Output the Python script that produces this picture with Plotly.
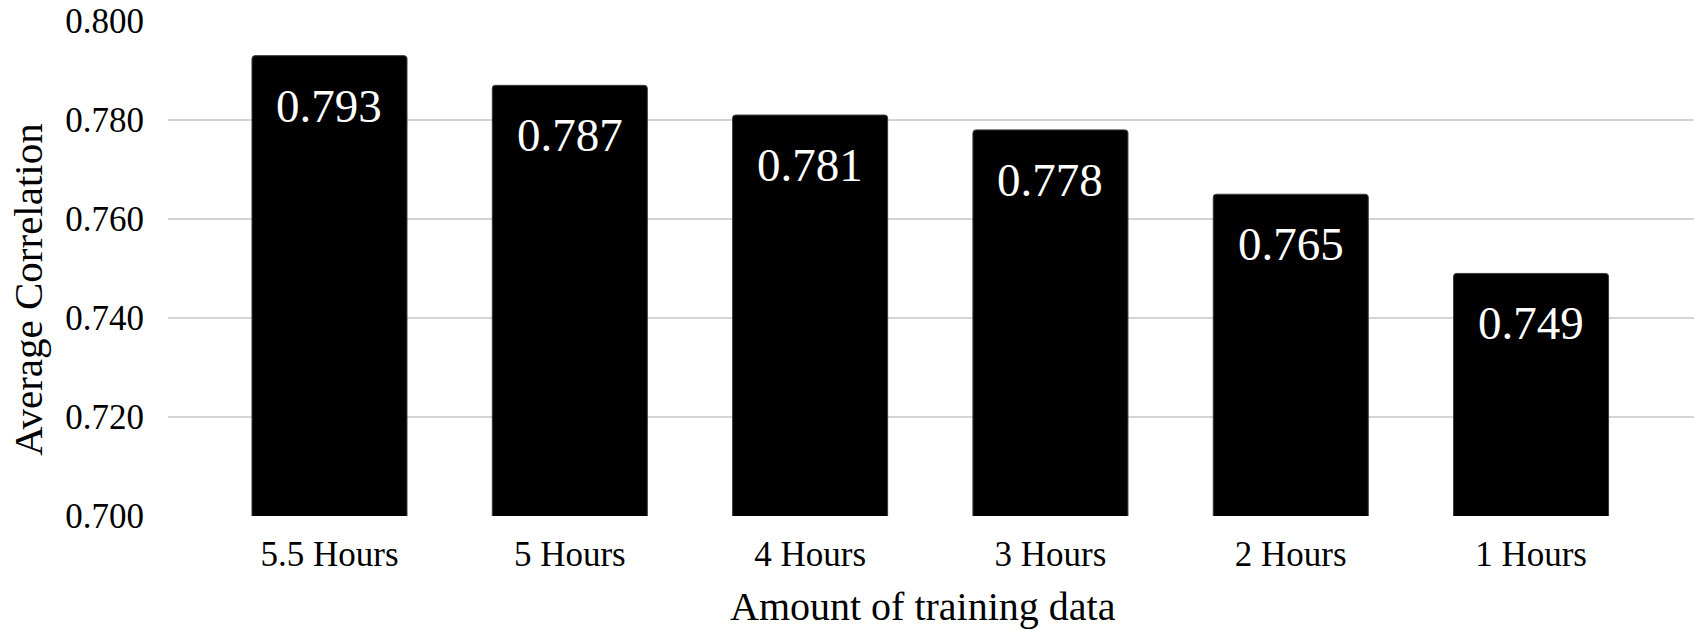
import plotly.graph_objects as go

# Average correlation by amount of training data
categories = ["5.5 Hours", "5 Hours", "4 Hours", "3 Hours", "2 Hours", "1 Hours"]
avg_correlation = [0.793, 0.787, 0.781, 0.778, 0.765, 0.749]
y_ticks = [0.700, 0.720, 0.740, 0.760, 0.780, 0.800]

FONT = "Liberation Serif, Times New Roman, serif"

fig = go.Figure()
fig.add_trace(go.Bar(
    x=categories,
    y=avg_correlation,
    base=0,
    width=0.645,
    marker=dict(color="#000000", line=dict(color="#3a3a3a", width=1), cornerradius=3),
    hoverinfo="x+y",
))

# Value labels placed just inside the top of each bar
for cat, val in zip(categories, avg_correlation):
    fig.add_annotation(
        x=cat, y=val, xref="x", yref="y",
        text=f"{val:.3f}", showarrow=False,
        yanchor="top", yshift=-22,
        font=dict(family=FONT, size=47, color="#ffffff"),
    )

# Axis titles
fig.add_annotation(
    text="Amount of training data", xref="paper", yref="paper",
    x=0.495, y=-0.183, xanchor="center", yanchor="middle", showarrow=False,
    font=dict(family=FONT, size=40, color="#000000"),
)
fig.add_annotation(
    text="Average Correlation", xref="paper", yref="paper", textangle=-90,
    x=-0.0917, y=0.4566, xanchor="center", yanchor="middle", showarrow=False,
    font=dict(family=FONT, size=41, color="#000000"),
)

fig.update_layout(
    width=1694, height=630,
    margin=dict(l=168, r=0, t=21, b=114),
    paper_bgcolor="#ffffff", plot_bgcolor="#ffffff",
    showlegend=False,
    font=dict(family=FONT, color="#000000"),
)
fig.update_xaxes(
    range=[-0.672, 5.678],
    showgrid=False, zeroline=False, showline=False,
    ticks="outside", ticklen=7, tickcolor="rgba(0,0,0,0)",
    tickfont=dict(family=FONT, size=35, color="#000000"),
)
fig.update_yaxes(
    range=[0.7, 0.8],
    tickvals=y_ticks, ticktext=[f"{v:.3f}" for v in y_ticks],
    showgrid=True, gridcolor="#d4d4d4", gridwidth=2,
    zeroline=False, showline=False,
    ticks="outside", ticklen=16, tickcolor="rgba(0,0,0,0)",
    tickfont=dict(family=FONT, size=35, color="#000000"),
)

fig.write_html("out.html")
